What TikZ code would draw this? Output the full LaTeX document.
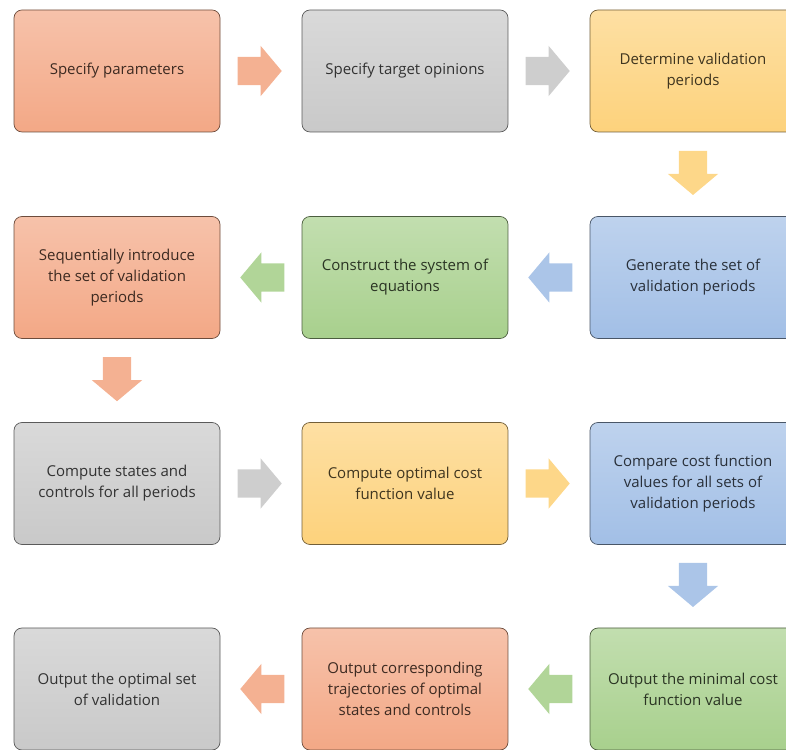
\documentclass[tikz,border=0pt]{standalone}
\usepackage{fontspec}
\setmainfont{Open Sans}
\usetikzlibrary{shapes.arrows,calc}

\definecolor{orbox}{HTML}{F3A886}
\definecolor{grbox}{HTML}{C9C9C9}
\definecolor{ylbox}{HTML}{FDD27C}
\definecolor{blbox}{HTML}{A2BFE6}
\definecolor{gnbox}{HTML}{A8D08D}

\begin{document}
\begin{tikzpicture}[x=1pt,y=1pt,
    box/.style={rounded corners=8pt, minimum width=206pt, minimum height=122pt,
        align=center, font=\fontsize{15}{21}\selectfont, line width=0.7pt,
        draw=#1!45!black, top color=#1!70!white, bottom color=#1, text=#1!25!black},
    blockarr/.style={single arrow, draw=none, fill=#1!90!white, inner sep=14pt,
        minimum height=44pt, minimum width=50pt, single arrow head extend=11pt,
        single arrow tip angle=100, anchor=tip}]
    \useasboundingbox (0,0) rectangle (786,749);
    \clip (0,0) rectangle (786,749);
    % row 1
    \node [box=orbox] (params)    at (117,678)   {Specify parameters};
    \node [box=grbox] (target)    at (405,678)   {Specify target opinions};
    \node [box=ylbox] (determ)    at (693,678)   {Determine validation\\periods};
    % row 2
    \node [box=orbox] (introduce) at (117,471.5) {Sequentially introduce\\the set of validation\\periods};
    \node [box=gnbox] (construct) at (405,471.5) {Construct the system of\\equations};
    \node [box=blbox] (generate)  at (693,471.5) {Generate the set of\\validation periods};
    % row 3
    \node [box=grbox] (compute)   at (117,265.5) {Compute states and\\controls for all periods};
    \node [box=ylbox] (optimal)   at (405,265.5) {Compute optimal cost\\function value};
    \node [box=blbox] (compare)   at (693,265.5) {Compare cost function\\values for all sets of\\validation periods};
    % row 4
    \node [box=grbox] (optset)    at (117,60)    {Output the optimal set\\of validation};
    \node [box=orbox] (traject)   at (405,60)    {Output corresponding\\trajectories of optimal\\states and controls};
    \node [box=gnbox] (minimal)   at (693,60)    {Output the minimal cost\\function value};
    % block arrows, coloured like the box they leave
    \foreach \s/\t/\c/\r in {params/target/orbox/0, target/determ/grbox/0,
        determ/generate/ylbox/270, generate/construct/blbox/180,
        construct/introduce/gnbox/180, introduce/compute/orbox/270,
        compute/optimal/grbox/0, optimal/compare/ylbox/0,
        compare/minimal/blbox/270, minimal/traject/gnbox/180,
        traject/optset/orbox/180}{
        \node [blockarr=\c, shape border rotate=\r] (\s-\t) at ($(\s)!.5!(\t)!21pt!(\t)$) {};
    }
\end{tikzpicture}
\end{document}
